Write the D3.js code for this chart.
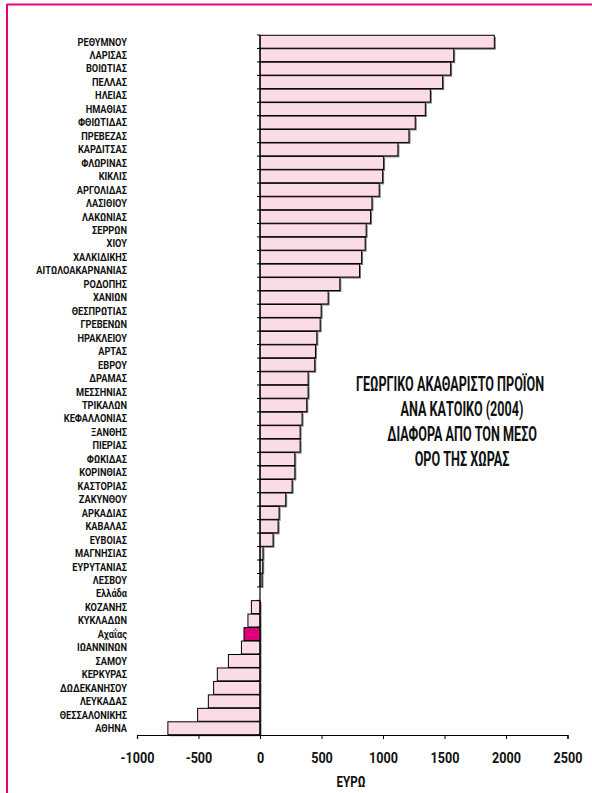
<!DOCTYPE html>
<html>
<head>
<meta charset="utf-8">
<script src="https://cdn.jsdelivr.net/npm/d3@7"></script>
<style>
  body { margin: 0; background: #fff; }
  svg text { font-family: "Roboto", "DejaVu Sans Condensed", sans-serif; font-weight: bold; fill: #111; }
</style>
</head>
<body>
<div id="chart"></div>
<script>
// prefectures, top to bottom
var regions = ["ΡΕΘΥΜΝΟΥ", "ΛΑΡΙΣΑΣ", "ΒΟΙΩΤΙΑΣ", "ΠΕΛΛΑΣ", "ΗΛΕΙΑΣ", "ΗΜΑΘΙΑΣ", "ΦΘΙΩΤΙΔΑΣ",
  "ΠΡΕΒΕΖΑΣ", "ΚΑΡΔΙΤΣΑΣ", "ΦΛΩΡΙΝΑΣ", "ΚΙΚΛΙΣ", "ΑΡΓΟΛΙΔΑΣ", "ΛΑΣΙΘΙΟΥ", "ΛΑΚΩΝΙΑΣ",
  "ΣΕΡΡΩΝ", "ΧΙΟΥ", "ΧΑΛΚΙΔΙΚΗΣ", "ΑΙΤΩΛΟΑΚΑΡΝΑΝΙΑΣ", "ΡΟΔΟΠΗΣ", "ΧΑΝΙΩΝ", "ΘΕΣΠΡΩΤΙΑΣ",
  "ΓΡΕΒΕΝΩΝ", "ΗΡΑΚΛΕΙΟΥ", "ΑΡΤΑΣ", "ΕΒΡΟΥ", "ΔΡΑΜΑΣ", "ΜΕΣΣΗΝΙΑΣ", "ΤΡΙΚΑΛΩΝ",
  "ΚΕΦΑΛΛΟΝΙΑΣ", "ΞΑΝΘΗΣ", "ΠΙΕΡΙΑΣ", "ΦΩΚΙΔΑΣ", "ΚΟΡΙΝΘΙΑΣ", "ΚΑΣΤΟΡΙΑΣ", "ΖΑΚΥΝΘΟΥ",
  "ΑΡΚΑΔΙΑΣ", "ΚΑΒΑΛΑΣ", "ΕΥΒΟΙΑΣ", "ΜΑΓΝΗΣΙΑΣ", "ΕΥΡΥΤΑΝΙΑΣ", "ΛΕΣΒΟΥ", "Ελλάδα",
  "ΚΟΖΑΝΗΣ", "ΚΥΚΛΑΔΩΝ", "Αχαΐας", "ΙΩΑΝΝΙΝΩΝ", "ΣΑΜΟΥ", "ΚΕΡΚΥΡΑΣ", "ΔΩΔΕΚΑΝΗΣΟΥ",
  "ΛΕΥΚΑΔΑΣ", "ΘΕΣΣΑΛΟΝΙΚΗΣ", "ΑΘΗΝΑ"]

// difference from national average, euro
var diffs = [1905, 1575, 1550, 1485, 1385, 1344, 1262,
  1211, 1121, 1005, 997, 969, 910, 899,
  863, 855, 826, 809, 649, 554, 497,
  489, 462, 451, 445, 391, 391, 380,
  342, 326, 326, 283, 283, 261, 209,
  155, 147, 106, 24, 22, 16, 0,
  -70, -98, -130, -151, -257, -347, -377,
  -420, -507, -749]

var xTicks = [-1000, -500, 0, 500, 1000, 1500, 2000, 2500]
var highlight = "Αχαΐας"

var titleLines = ["ΓΕΩΡΓΙΚΟ ΑΚΑΘΑΡΙΣΤΟ ΠΡΟΪΟΝ", "ΑΝΑ ΚΑΤΟΙΚΟ (2004)", "ΔΙΑΦΟΡΑ ΑΠΟ ΤΟΝ ΜΕΣΟ", "ΟΡΟ ΤΗΣ ΧΩΡΑΣ"]

var data = regions.map(function (r, i) { return { name: r, value: diffs[i] } })

var W = 592, H = 793
var svg = d3.select("#chart").append("svg")
  .attr("width", W).attr("height", H)

// condensed-looking text: squeeze horizontally around the anchor point
function narrowText(sel, px, y, size, squeeze, anchor, txt) {
  return sel.append("g")
    .attr("transform", "translate(" + px + "," + y + ") scale(" + squeeze + ",1)")
    .append("text")
    .attr("text-anchor", anchor)
    .style("font-size", size + "px")
    .text(txt)
}

// pink frame, top and left edges
svg.append("line").attr("x1", 7).attr("x2", W).attr("y1", 4.5).attr("y2", 4.5)
  .attr("stroke", "#e6007e").attr("stroke-width", 2)
svg.append("line").attr("x1", 7).attr("x2", 7).attr("y1", 4).attr("y2", H)
  .attr("stroke", "#e6007e").attr("stroke-width", 2)

var x = d3.scaleLinear().domain([-1000, 2500]).range([137, 567.5])
var y = d3.scaleBand().domain(regions).range([35, 735]).paddingInner(0.04).paddingOuter(0.02)

var g = svg.append("g")
var bars = data.filter(d => d.value !== 0)

// shadows
g.selectAll("rect.shadow").data(bars).enter().append("rect")
  .attr("class", "shadow")
  .attr("x", d => Math.min(x(0), x(d.value)) + 1.5)
  .attr("y", d => y(d.name) + 1.5)
  .attr("width", d => Math.abs(x(d.value) - x(0)))
  .attr("height", y.bandwidth())
  .attr("fill", "#777")

g.selectAll("rect.bar").data(bars).enter().append("rect")
  .attr("class", "bar")
  .attr("x", d => Math.min(x(0), x(d.value)))
  .attr("y", d => y(d.name))
  .attr("width", d => Math.abs(x(d.value) - x(0)))
  .attr("height", y.bandwidth())
  .attr("fill", d => d.name === highlight ? "#e2007a" : "#fcdce4")
  .attr("stroke", "#000")
  .attr("stroke-width", 1)

// category axis on the zero line, ticks between bands
var zx = x(0)
g.append("line").attr("x1", zx).attr("x2", zx).attr("y1", 35).attr("y2", 735)
  .attr("stroke", "#000").attr("stroke-width", 1.2)
g.selectAll("line.ytick").data(d3.range(regions.length + 1)).enter().append("line")
  .attr("class", "ytick")
  .attr("x1", zx - 3).attr("x2", zx)
  .attr("y1", i => 35 + i * (700 / regions.length))
  .attr("y2", i => 35 + i * (700 / regions.length))
  .attr("stroke", "#000")

var labels = svg.append("g")
data.forEach(function (d) {
  narrowText(labels, 127, y(d.name) + y.bandwidth() / 2 + 3.8, 10.5, 0.88, "end", d.name)
})

// value axis
var xAxis = d3.axisBottom(x).tickValues(xTicks).tickSize(4).tickFormat(d => String(d))
var ax = svg.append("g").attr("transform", "translate(0,735)").call(xAxis)
ax.select(".domain").attr("stroke", "#000").attr("stroke-width", 1.2)
ax.selectAll(".tick text")
  .attr("y", 28).attr("dy", 0)
  .attr("transform", "scale(0.84,1)")
  .style("font-size", "15px").style("fill", "#111")
  .style("font-family", "Roboto, sans-serif").style("font-weight", "bold")

narrowText(svg, 351, 787, 14, 0.83, "middle", "ΕΥΡΩ")

// title block; first line sits a little left of the others
var tg = svg.append("g")
titleLines.forEach(function (t, i) {
  narrowText(tg, i === 0 ? 450 : 462, 391 + i * 25, 20, 0.63, "middle", t)
})
</script>
</body>
</html>
